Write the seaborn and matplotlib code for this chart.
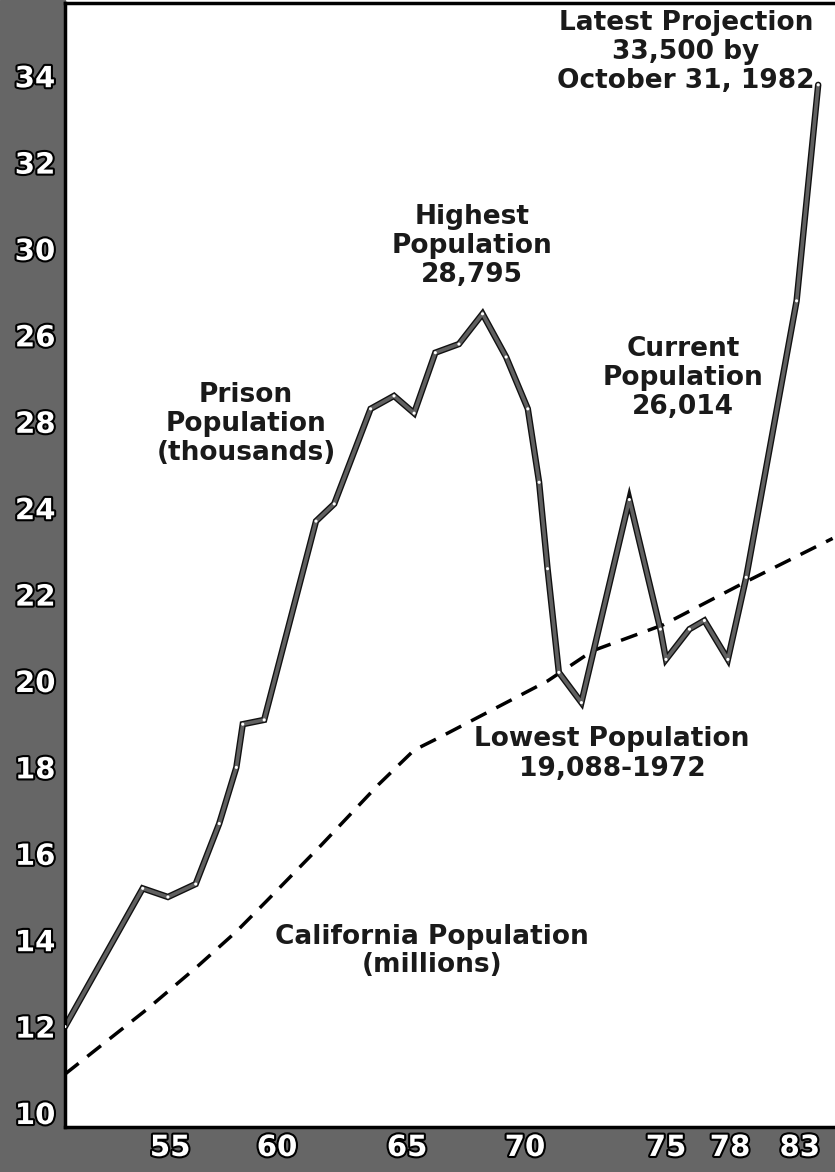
import numpy as np
import pandas as pd
import matplotlib
matplotlib.use('Agg')
import matplotlib.pyplot as plt
import matplotlib.patheffects as pe
from matplotlib.patches import Rectangle
from matplotlib import font_manager
import seaborn as sns

# Prison population (thousands)
prison_years = [50.0, 53.7, 54.9, 56.2, 57.3, 58.1, 58.4, 59.4, 61.5, 62.2, 63.6, 64.5,
                65.3, 66.2, 67.2, 68.2, 69.2, 70.1, 70.5, 70.8, 71.2, 72.0, 73.7, 74.8,
                75.0, 76.1, 76.8, 77.9, 78.9, 81.7, 82.9]
prison_vals = [12.0, 15.2, 15.0, 15.3, 16.7, 18.0, 19.0, 19.1, 23.7, 24.1, 26.3, 26.6,
               26.2, 27.6, 27.8, 28.5, 27.5, 26.3, 24.6, 22.6, 20.2, 19.5, 24.2, 21.2,
               20.5, 21.2, 21.4, 20.5, 22.4, 28.8, 33.8]

# California population (millions)
calif_years = [50.0, 53.9, 56.3, 58.1, 59.5, 61.7, 63.9, 65.3, 66.4, 70.8, 72.4, 74.9, 78.9, 83.7]
calif_vals = [10.9, 12.4, 13.4, 14.2, 14.9, 16.2, 17.6, 18.4, 18.7, 20.0, 20.7, 21.3, 22.3, 23.3]

# tick labels as printed (the 26/28 pair is swapped in the original)
ytick_vals = [10, 12, 14, 16, 18, 20, 22, 24, 26, 28, 30, 32, 34]
ytick_labels = ['10', '12', '14', '16', '18', '20', '22', '24', '28', '26', '30', '32', '34']
xtick_vals = [55, 60, 65, 70, 75, 78, 83]
xtick_labels = ['55', '60', '65', '70', '75', '78', '83']

# the hand-drawn year axis is not evenly spaced: knots of year -> pixel
axis_years = [40, 50, 55, 60, 65, 70, 75, 78, 83, 95]
axis_px = [-145, 65, 170, 277, 407, 525, 666, 730, 820, 1036]


def fwd(x):
    return np.interp(x, axis_years, axis_px)


def inv(p):
    return np.interp(p, axis_px, axis_years)


W, H = 835, 1172
L, B, T = 65, 1127, 3

sns.set_style('white')
plt.rcParams['font.family'] = ['DejaVu Sans']

# narrow font for the tall, condensed axis numbers if it is there
names = {f.name for f in font_manager.fontManager.ttflist}
if 'Liberation Sans Narrow' in names:
    tick_family, tick_size = 'Liberation Sans Narrow', 29
else:
    tick_family, tick_size = 'DejaVu Sans', 21

fig = plt.figure(figsize=(W / 100, H / 100), dpi=100)
ax = fig.add_axes([L / W, (H - B) / H, (W - L) / W, (B - T) / H])

# grey label bands of the scan, behind the axes
fig.patches.append(Rectangle((0, 0), L / W, 1, transform=fig.transFigure,
                             color='#666666', zorder=-1))
fig.patches.append(Rectangle((0, 0), 1, (H - B) / H, transform=fig.transFigure,
                             color='#666666', zorder=-1))

ax.set_xscale('function', functions=(fwd, inv))

sns.lineplot(x=calif_years, y=calif_vals, ax=ax, color='black', linewidth=2.5,
             linestyle=(0, (5, 3.2)), dash_capstyle='butt', sort=False)
sns.lineplot(x=prison_years, y=prison_vals, ax=ax, color='#606060', linewidth=2.6,
             sort=False, solid_joinstyle='miter',
             path_effects=[pe.Stroke(linewidth=4.6, foreground='#111111'), pe.Normal()])
sns.scatterplot(x=prison_years, y=prison_vals, ax=ax, s=5, color='white',
                edgecolor='none', zorder=5)

ax.set_xlim(50, inv(W))
ax.set_ylim(10 - (B - 1113) / 43.2, 10 + (1113 - T) / 43.2)

ax.set_xticks(xtick_vals, xtick_labels)
ax.set_yticks(ytick_vals, ytick_labels)
ax.tick_params(length=0)
ax.tick_params(axis='y', pad=7)
ax.tick_params(axis='x', pad=5)
for lbl in ax.get_xticklabels() + ax.get_yticklabels():
    lbl.set_family(tick_family)
    lbl.set_fontsize(tick_size)
    lbl.set_fontweight('bold')
    lbl.set_color('white')
    lbl.set_path_effects([pe.withStroke(linewidth=3, foreground='black')])
ax.set_xlabel('')
ax.set_ylabel('')
# last year label sits at the very edge: keep it inside the picture
ax.get_xticklabels()[-1].set_horizontalalignment('right')

ax.spines['right'].set_visible(False)
for s in ['left', 'top', 'bottom']:
    ax.spines[s].set_linewidth(2.5)
    ax.spines[s].set_color('black')


def note(px, py, txt):
    ax.text((px - L) / (W - L), (B - py) / (B - T), txt, transform=ax.transAxes,
            ha='center', va='center', multialignment='center', fontsize=19,
            fontweight='bold', color='#1a1a1a', linespacing=1.15)


note(686, 52, 'Latest Projection\n33,500 by\nOctober 31, 1982')
note(472, 246, 'Highest\nPopulation\n28,795')
note(683, 378, 'Current\nPopulation\n26,014')
note(246, 424, 'Prison\nPopulation\n(thousands)')
note(612, 754, 'Lowest Population\n19,088-1972')
note(432, 951, 'California Population\n(millions)')

fig.savefig('out.png', dpi=100)
